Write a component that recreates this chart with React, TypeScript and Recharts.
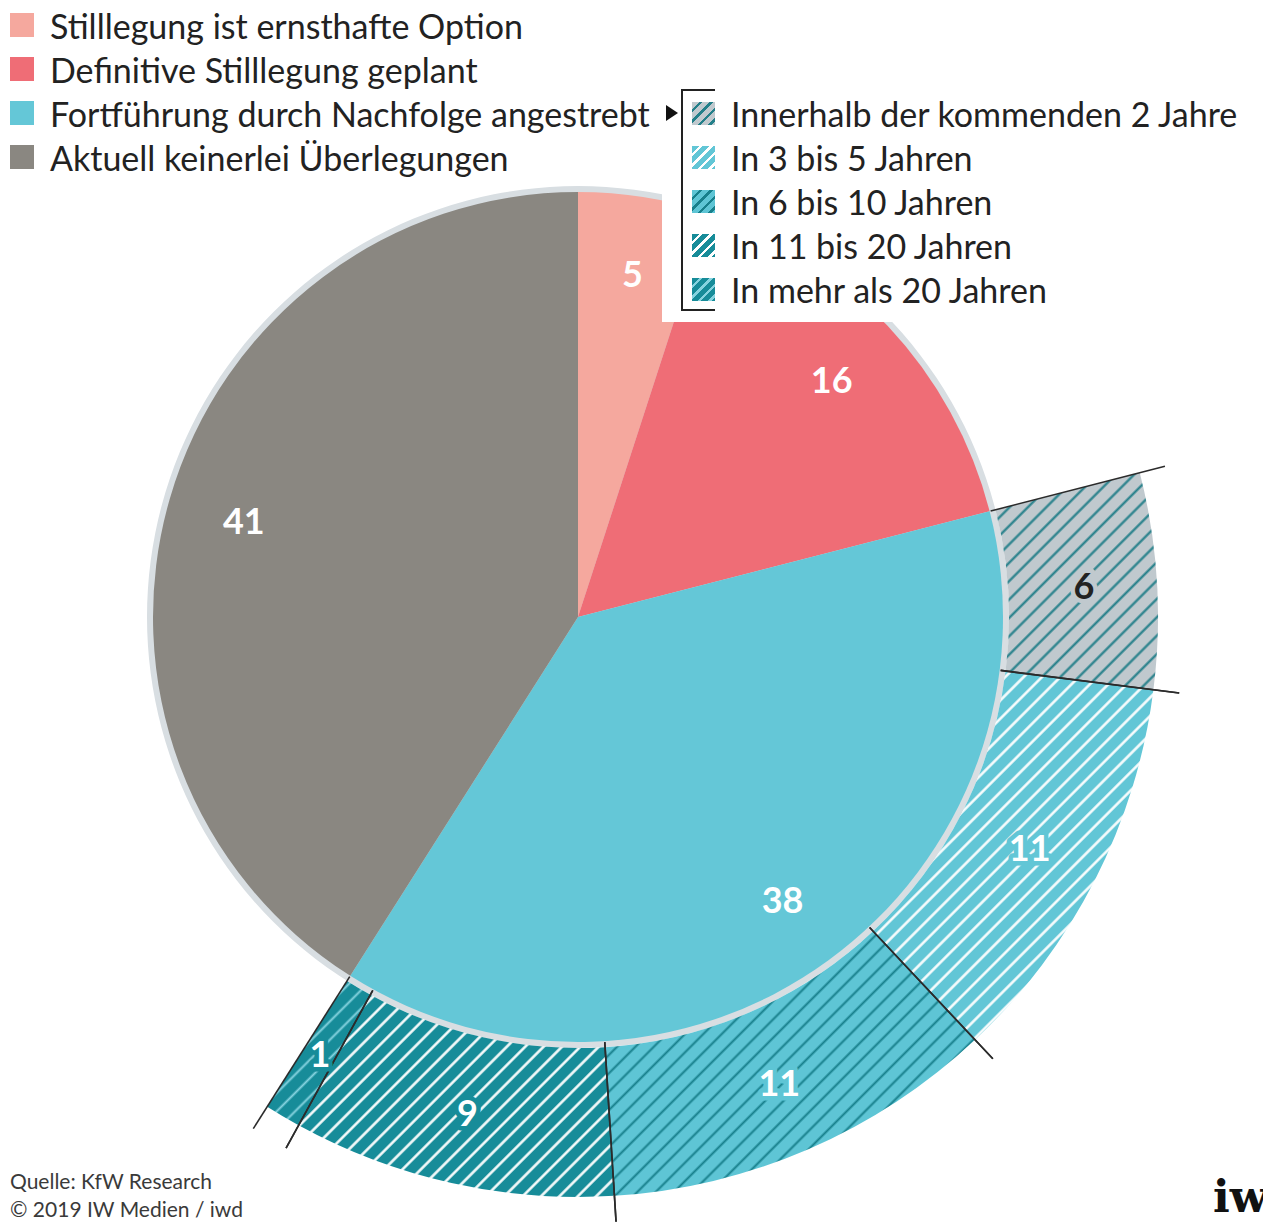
import React from 'react';
import { PieChart, Pie, Cell, Sector } from 'recharts';

// Pläne der Unternehmen (Anteile in Prozent)
const planLabels = [
  'Stilllegung ist ernsthafte Option',
  'Definitive Stilllegung geplant',
  'Fortführung durch Nachfolge angestrebt',
  'Aktuell keinerlei Überlegungen',
];
const planValues = [5, 16, 38, 41];

// Zeitpunkt der angestrebten Nachfolge (Teil der 38)
const timingLabels = [
  'Innerhalb der kommenden 2 Jahre',
  'In 3 bis 5 Jahren',
  'In 6 bis 10 Jahren',
  'In 11 bis 20 Jahren',
  'In mehr als 20 Jahren',
];
const timingValues = [6, 11, 11, 9, 1];

const sourceLines = ['Quelle: KfW Research', '© 2019 IW Medien / iwd'];

const planColors = ['#f5a89e', '#ef6d76', '#64c7d7', '#8a8781'];
const hatch = [
  { bg: '#c0c9ce', line: '#237f89', w: 2.2, text: '#222222' },
  { bg: '#62c6d6', line: '#ffffff', w: 2.5, text: '#ffffff' },
  { bg: '#5ec5d5', line: '#17808c', w: 2, text: '#ffffff' },
  { bg: '#178c99', line: '#ffffff', w: 2.5, text: '#ffffff' },
  { bg: '#178c99', line: '#86d3df', w: 2, text: '#ffffff' },
];

const W = 1263;
const H = 1223;
const CX = 578;
const CY = 617;
const R_PIE = 425;
const R_RING_IN = 431;
const R_RING_OUT = 580;
const RAD = Math.PI / 180;
const FONT = 'Lato, "Open Sans", sans-serif';

const planData = planLabels.map((name, i) => ({ name, value: planValues[i] }));
const timingData = timingLabels.map((name, i) => ({ name, value: timingValues[i] }));
const total = planValues.reduce((a, b) => a + b, 0);
// der äußere Ring beginnt dort, wo das Nachfolge-Segment beginnt
const ringStart = 90 - (360 * (planValues[0] + planValues[1])) / total;
const ringEnd = ringStart - (360 * timingValues.reduce((a, b) => a + b, 0)) / total;

const polar = (cx: number, cy: number, r: number, a: number) => ({
  x: cx + r * Math.cos(-a * RAD),
  y: cy + r * Math.sin(-a * RAD),
});

const innerLabel = (p: any) => {
  const { x, y } = polar(p.cx, p.cy, 348, p.midAngle);
  return (
    <text x={x} y={y} textAnchor="middle" dominantBaseline="central" fill="#fff"
      fontSize={36} fontWeight={700} fontFamily={FONT}>
      {p.value}
    </text>
  );
};

const ringLabel = (p: any) => {
  const { x, y } = polar(p.cx, p.cy, 507, p.midAngle);
  const s = hatch[p.index];
  return (
    <text x={x} y={y} textAnchor="middle" dominantBaseline="central" fill={s.text}
      stroke={s.bg} strokeWidth={9} paintOrder="stroke" strokeLinejoin="round"
      fontSize={36} fontWeight={700} fontFamily={FONT}>
      {p.value}
    </text>
  );
};

const ringShape = (p: any) => <Sector {...p} stroke="none" />;

// Trennlinien zwischen den Ringsegmenten, über die Beschriftung der Sektoren gezeichnet
const dividerLabel = (p: any) => {
  const { cx, cy, startAngle, endAngle } = p;
  return (
    <g>
      {[startAngle, endAngle].map((a: number, i: number) => {
        const a1 = polar(cx, cy, 426, a);
        const a2 = polar(cx, cy, 606, a);
        return <line key={i} x1={a1.x} y1={a1.y} x2={a2.x} y2={a2.y} stroke="#2b2b2b" strokeWidth={1.6} />;
      })}
    </g>
  );
};

const swatch = (bg: string, line: string) =>
  `repeating-linear-gradient(135deg, ${bg} 0px, ${bg} 5px, ${line} 5px, ${line} 7.5px)`;

export default function App() {
  return (
    <div style={{ position: 'absolute', left: 0, top: 0, width: W, height: H, overflow: 'hidden', background: '#fff', fontFamily: FONT }}>
      <PieChart width={W} height={H} margin={{ top: 0, right: 0, bottom: 0, left: 0 }}>
        <defs>
          {hatch.map((s, i) => (
            <pattern key={i} id={`hatch${i}`} patternUnits="userSpaceOnUse" width={13} height={13}
              patternTransform="rotate(45)">
              <rect width={13} height={13} fill={s.bg} />
              <line x1={6.5} y1={0} x2={6.5} y2={13} stroke={s.line} strokeWidth={s.w} />
            </pattern>
          ))}
        </defs>
        {/* heller Rand um den Kreis */}
        <Pie data={[{ value: total }]} dataKey="value" cx={CX} cy={CY} outerRadius={R_RING_IN}
          fill="#d8dee2" stroke="none" isAnimationActive={false} />
        <Pie data={planData} dataKey="value" cx={CX} cy={CY} outerRadius={R_PIE}
          startAngle={90} endAngle={-270} stroke="none" label={innerLabel} labelLine={false}
          isAnimationActive={false}>
          {planData.map((d, i) => <Cell key={d.name} fill={planColors[i]} />)}
        </Pie>
        <Pie data={timingData} dataKey="value" cx={CX} cy={CY} innerRadius={R_RING_IN} outerRadius={R_RING_OUT}
          startAngle={ringStart} endAngle={ringEnd} stroke="none" labelLine={false}
          inactiveShape={ringShape} activeShape={ringShape} isAnimationActive={false}>
          {timingData.map((d, i) => <Cell key={d.name} fill={`url(#hatch${i})`} />)}
        </Pie>
        <Pie data={timingData} dataKey="value" cx={CX} cy={CY} innerRadius={R_RING_IN} outerRadius={R_RING_OUT}
          startAngle={ringStart} endAngle={ringEnd} fill="none" stroke="none"
          label={dividerLabel} labelLine={false} isAnimationActive={false} />
        <Pie data={timingData} dataKey="value" cx={CX} cy={CY} innerRadius={R_RING_IN} outerRadius={R_RING_OUT}
          startAngle={ringStart} endAngle={ringEnd} fill="none" stroke="none"
          label={ringLabel} labelLine={false} isAnimationActive={false} />
      </PieChart>

      {/* Legende links */}
      <div style={{ position: 'absolute', left: 0, top: 3 }}>
        {planLabels.map((l, i) => (
          <div key={l} style={{ display: 'flex', alignItems: 'center', height: 44 }}>
            <div style={{ width: 24, height: 24, marginLeft: 10, marginRight: 16, background: planColors[i] }} />
            <span style={{ fontSize: 34, color: '#222', whiteSpace: 'nowrap' }}>{l}</span>
          </div>
        ))}
      </div>

      {/* Legende rechts mit weißem Hintergrund */}
      <div style={{ position: 'absolute', left: 662, top: 80, width: W - 662, height: 242, background: '#fff' }} />
      <svg style={{ position: 'absolute', left: 664, top: 104 }} width={16} height={18}>
        <polygon points="2,1 14,9 2,17" fill="#111" />
      </svg>
      <div style={{ position: 'absolute', left: 681, top: 89, width: 32, height: 218, borderLeft: '2px solid #222', borderTop: '2px solid #222', borderBottom: '2px solid #222' }} />
      <div style={{ position: 'absolute', left: 0, top: 91 }}>
        {timingLabels.map((l, i) => (
          <div key={l} style={{ position: 'absolute', left: 0, top: i * 44, display: 'flex', alignItems: 'center', height: 44 }}>
            <div style={{ width: 23, height: 23, marginLeft: 692, marginRight: 16, background: swatch(hatch[i].bg, hatch[i].line) }} />
            <span style={{ fontSize: 34, color: '#222', whiteSpace: 'nowrap' }}>{l}</span>
          </div>
        ))}
      </div>

      {/* Quelle */}
      <div style={{ position: 'absolute', left: 10, top: 1167, fontSize: 21, lineHeight: '28px', color: '#3a3a3a' }}>
        {sourceLines.map((s) => <div key={s}>{s}</div>)}
      </div>
      <div style={{ position: 'absolute', left: 1213, top: 1172, fontSize: 44, fontWeight: 900, fontFamily: '"DejaVu Serif", serif', color: '#111', lineHeight: '50px' }}>
        iwd
      </div>
    </div>
  );
}
